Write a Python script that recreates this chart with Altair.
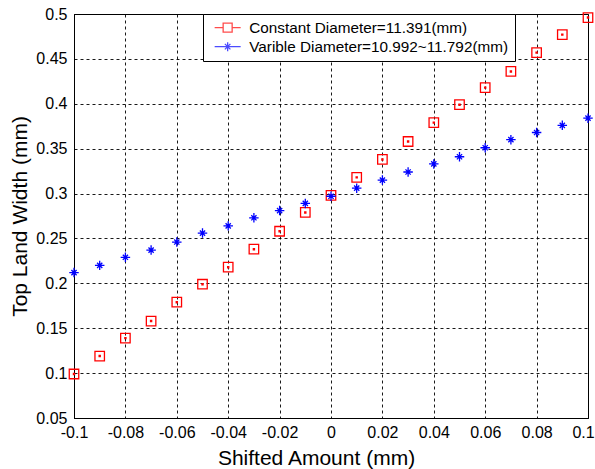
import altair as alt
import pandas as pd

shift = [-0.1, -0.09, -0.08, -0.07, -0.06, -0.05, -0.04, -0.03, -0.02, -0.01, 0.0,
         0.01, 0.02, 0.03, 0.04, 0.05, 0.06, 0.07, 0.08, 0.09, 0.1]
constant = [0.099, 0.119, 0.139, 0.158, 0.179, 0.199, 0.218, 0.238, 0.258, 0.279, 0.298,
            0.318, 0.338, 0.358, 0.379, 0.399, 0.418, 0.436, 0.457, 0.477, 0.496]
variable = [0.212, 0.220, 0.229, 0.237, 0.246, 0.256, 0.264, 0.273, 0.281, 0.289, 0.297,
            0.306, 0.315, 0.324, 0.333, 0.341, 0.351, 0.360, 0.368, 0.376, 0.384]
series_names = ["Constant Diameter=11.391(mm)", "Varible Diameter=10.992~11.792(mm)"]
x_ticks = [-0.1, -0.08, -0.06, -0.04, -0.02, 0, 0.02, 0.04, 0.06, 0.08, 0.1]
y_ticks = [0.05, 0.1, 0.15, 0.2, 0.25, 0.3, 0.35, 0.4, 0.45, 0.5]

rows = []
for s, vals in zip(series_names, [constant, variable]):
    for xv, yv in zip(shift, vals):
        rows.append({"shift": xv, "width": yv, "series": s})
df = pd.DataFrame(rows)

colors = ["#ff0000", "#0000ff"]
square_path = "M-1,-1L1,-1L1,1L-1,1Z M-0.12,-0.12L0.12,-0.12L0.12,0.12L-0.12,0.12Z"
star_path = "M0,-1L0,1M-1,0L1,0M-0.55,-0.55L0.55,0.55M-0.55,0.55L0.55,-0.55"
leg_square = "M-2.6,0L-0.9,0M0.9,0L2.6,0M-0.9,-0.9L0.9,-0.9L0.9,0.9L-0.9,0.9Z"
leg_star = "M-2.6,0L2.6,0M0,-0.9L0,0.9M-0.55,-0.55L0.55,0.55M-0.55,0.55L0.55,-0.55"

FONT = "Liberation Sans"
label_expr = "replace(format(datum.value, '~g'), '\u2212', '-')"

x_enc = alt.X("shift:Q", scale=alt.Scale(domain=[-0.1, 0.1], nice=False),
              axis=alt.Axis(values=x_ticks, title="Shifted Amount (mm)", labelExpr=label_expr,
                            titleX=242, labelFlush=False, labelOverlap=False,
                            labelOffset=alt.expr("datum.value > 0.099 ? -5 : 0")))
y_enc = alt.Y("width:Q", scale=alt.Scale(domain=[0.05, 0.5], nice=False),
              axis=alt.Axis(values=y_ticks, title="Top Land Width (mm)", labelExpr=label_expr,
                            labelFlush=False, labelOverlap=False))

points = alt.Chart(df).mark_point(filled=False, strokeWidth=1.3, size=90, opacity=1).encode(
    x=x_enc,
    y=y_enc,
    color=alt.Color("series:N", scale=alt.Scale(domain=series_names, range=colors), legend=None),
    shape=alt.Shape("series:N", scale=alt.Scale(domain=series_names, range=[square_path, star_path]), legend=None),
    order=alt.Order("series:N"),
)

legend_layer = alt.Chart(df).transform_filter("false").mark_point(filled=False, strokeWidth=1.3).encode(
    x="shift:Q",
    y="width:Q",
    color=alt.Color("series:N", scale=alt.Scale(domain=series_names, range=colors),
                    legend=alt.Legend(title=None)),
    shape=alt.Shape("series:N", scale=alt.Scale(domain=series_names, range=[leg_square, leg_star]),
                    legend=alt.Legend(title=None)),
)

chart = alt.layer(points, legend_layer).resolve_scale(
    color="independent", shape="independent"
).properties(
    width=514, height=404,
    autosize=alt.AutoSizeParams(type="none"),
    padding={"left": 74, "top": 14, "right": 7, "bottom": 51},
).configure_view(
    stroke="black", strokeWidth=1
).configure_axis(
    grid=True, gridColor="black", gridDash=[3, 3], gridWidth=1, gridOpacity=0.9,
    domainColor="black", ticks=False, labelFont=FONT, labelFontSize=16, labelColor="black",
    titleFont=FONT, titleFontSize=21, titleFontWeight="normal", titleColor="black",
).configure_axisX(
    labelPadding=6, titlePadding=7
).configure_axisY(
    labelPadding=7, titlePadding=5
).configure_legend(
    orient="none", legendX=129, legendY=0,
    strokeColor="black", fillColor="white", padding=6,
    symbolSize=100, symbolStrokeWidth=1.3, symbolOffset=11,
    labelFont=FONT, labelFontSize=15.3, labelColor="black", labelOffset=14, labelLimit=0,
    rowPadding=3, cornerRadius=0,
)

chart.save("out.html", embed_options={"renderer": "svg", "actions": False})
